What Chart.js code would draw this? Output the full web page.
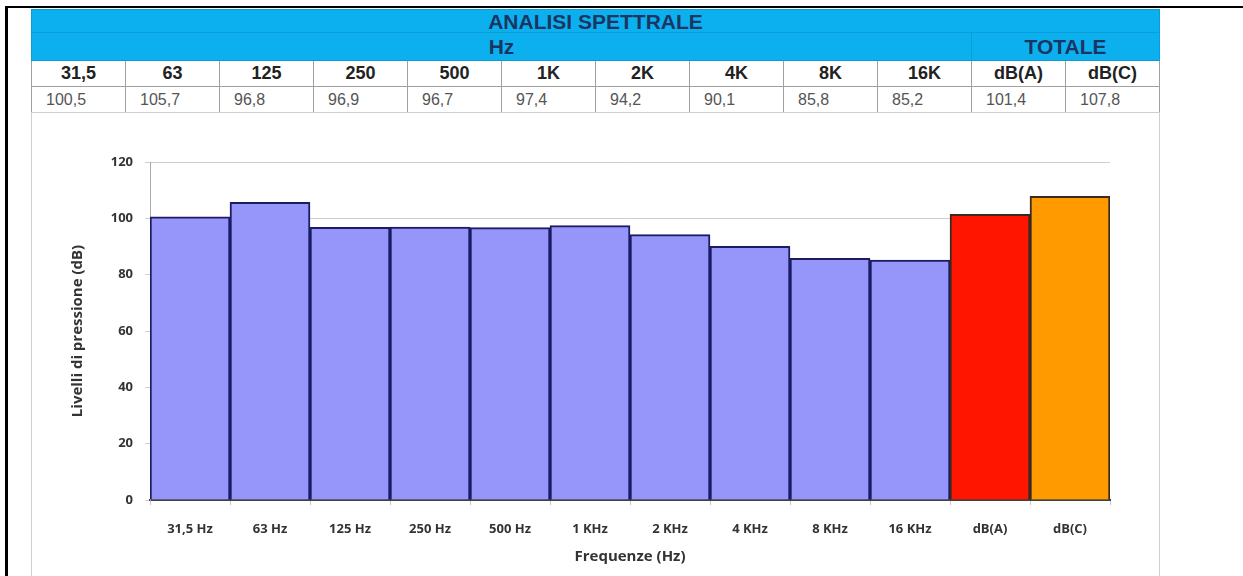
<!DOCTYPE html>
<html lang="it">
  <head>
    <meta charset="UTF-8" />
    <title>Analisi spettrale</title>
    <script src="https://cdn.jsdelivr.net/npm/chart.js"></script>
    <style>
      body {
        margin: 0;
        width: 1243px;
        height: 576px;
        background: #fff;
        position: relative;
        overflow: hidden;
        font-family: "Liberation Sans", Arial, sans-serif;
      }

      .frame-top {
        position: absolute;
        left: 5px;
        top: 6px;
        width: 1238px;
        height: 2px;
        background: #000;
      }

      .frame-left {
        position: absolute;
        left: 5px;
        top: 6px;
        width: 3px;
        height: 570px;
        background: #000;
      }

      table {
        position: absolute;
        left: 31px;
        top: 9px;
        width: 1129px;
        border-collapse: collapse;
        table-layout: fixed;
      }

      td {
        padding: 0;
        overflow: hidden;
        white-space: nowrap;
      }

      .blue td {
        background: #0cb0ef;
        color: #1b3562;
        font-weight: bold;
        text-align: center;
        border: 1px solid #0b9dd6;
        line-height: 1;
      }

      .title td {
        height: 22px;
        font-size: 21px;
      }

      .sub td {
        height: 27px;
        font-size: 21px;
      }

      .head td {
        height: 25px;
        font-size: 18px;
        font-weight: bold;
        color: #222;
        text-align: center;
        border: 1px solid #a0a0a0;
      }

      .vals td {
        height: 25px;
        font-size: 16px;
        color: #555;
        text-align: left;
        padding-left: 14px;
        border: 1px solid #a0a0a0;
      }

      .box {
        position: absolute;
        left: 31px;
        top: 112px;
        width: 1129px;
        height: 470px;
        box-sizing: border-box;
        border: 1px solid #cfcfcf;
      }

      .chart-wrap {
        position: absolute;
        left: 33px;
        top: 113px;
        width: 1126px;
        height: 460px;
      }
    </style>
  </head>

  <body>
    <div class="frame-top"></div>
    <div class="frame-left"></div>

    <table id="tab">
      <tr class="blue title"><td colspan="12">ANALISI SPETTRALE</td></tr>
      <tr class="blue sub"><td colspan="10">Hz</td><td colspan="2">TOTALE</td></tr>
      <tr class="head" id="headRow"></tr>
      <tr class="vals" id="valRow"></tr>
    </table>

    <div class="box"></div>
    <div class="chart-wrap"><canvas id="myChart"></canvas></div>

    <script>
      // Bande di frequenza (intestazioni tabella) ed etichette asse X
      const bands = ["31,5", "63", "125", "250", "500", "1K", "2K", "4K", "8K", "16K", "dB(A)", "dB(C)"];
      const tickLabels = ["31,5 Hz", "63 Hz", "125 Hz", "250 Hz", "500 Hz", "1 KHz", "2 KHz", "4 KHz", "8 KHz", "16 KHz", "dB(A)", "dB(C)"];
      const levels = [100.5, 105.7, 96.8, 96.9, 96.7, 97.4, 94.2, 90.1, 85.8, 85.2, 101.4, 107.8];
      const yTicks = [0, 20, 40, 60, 80, 100, 120];

      // Tabella riassuntiva
      const headRow = document.getElementById("headRow");
      const valRow = document.getElementById("valRow");
      bands.forEach((b, i) => {
        const th = document.createElement("td");
        th.textContent = b;
        headRow.appendChild(th);
        const td = document.createElement("td");
        td.textContent = levels[i].toFixed(1).replace(".", ",");
        valRow.appendChild(td);
      });

      const fills = levels.map((v, i) => (i === 10 ? "#ff1500" : i === 11 ? "#ff9a00" : "#9696fa"));
      const borders = levels.map((v, i) => (i < 10 ? "#1c1c64" : "#3a2a20"));

      const tickFont = { family: "'Open Sans', sans-serif", size: 13, weight: "bold" };
      const titleFont = { family: "'Open Sans', sans-serif", size: 15, weight: "bold" };

      const ctx = document.getElementById("myChart").getContext("2d");
      const myChart = new Chart(ctx, {
        type: "bar",
        data: {
          labels: tickLabels,
          datasets: [
            {
              data: levels,
              backgroundColor: fills,
              borderColor: borders,
              borderWidth: 2,
              barPercentage: 1,
              categoryPercentage: 1,
            },
          ],
        },
        options: {
          responsive: true,
          maintainAspectRatio: false,
          animation: false,
          layout: { padding: { left: 0, right: 49, top: 49, bottom: 0 } },
          plugins: { legend: { display: false }, tooltip: { enabled: false } },
          scales: {
            x: {
              offset: true,
              grid: { offset: true, drawOnChartArea: false, tickLength: 5, color: "#c8c8c8" },
              border: { color: "#404040", width: 2 },
              ticks: { color: "#333", font: tickFont, padding: 16, maxRotation: 0, autoSkip: false },
              title: {
                display: true,
                text: "Frequenze (Hz)",
                color: "#333",
                font: titleFont,
                padding: { top: 0, bottom: 7 },
              },
              afterFit: (scale) => {
                scale.height = 73;
              },
            },
            y: {
              min: 0,
              max: 120,
              afterBuildTicks: (scale) => {
                scale.ticks = yTicks.map((v) => ({ value: v }));
              },
              grid: { color: "#cfcfcf", tickLength: 5 },
              border: { color: "#a8a8a8" },
              ticks: { color: "#333", font: tickFont, padding: 12 },
              title: {
                display: true,
                text: "Livelli di pressione (dB)",
                color: "#333",
                font: titleFont,
                padding: { top: 36, bottom: 0 },
              },
              afterFit: (scale) => {
                scale.width = 117;
              },
            },
          },
        },
      });
    </script>
  </body>
</html>
